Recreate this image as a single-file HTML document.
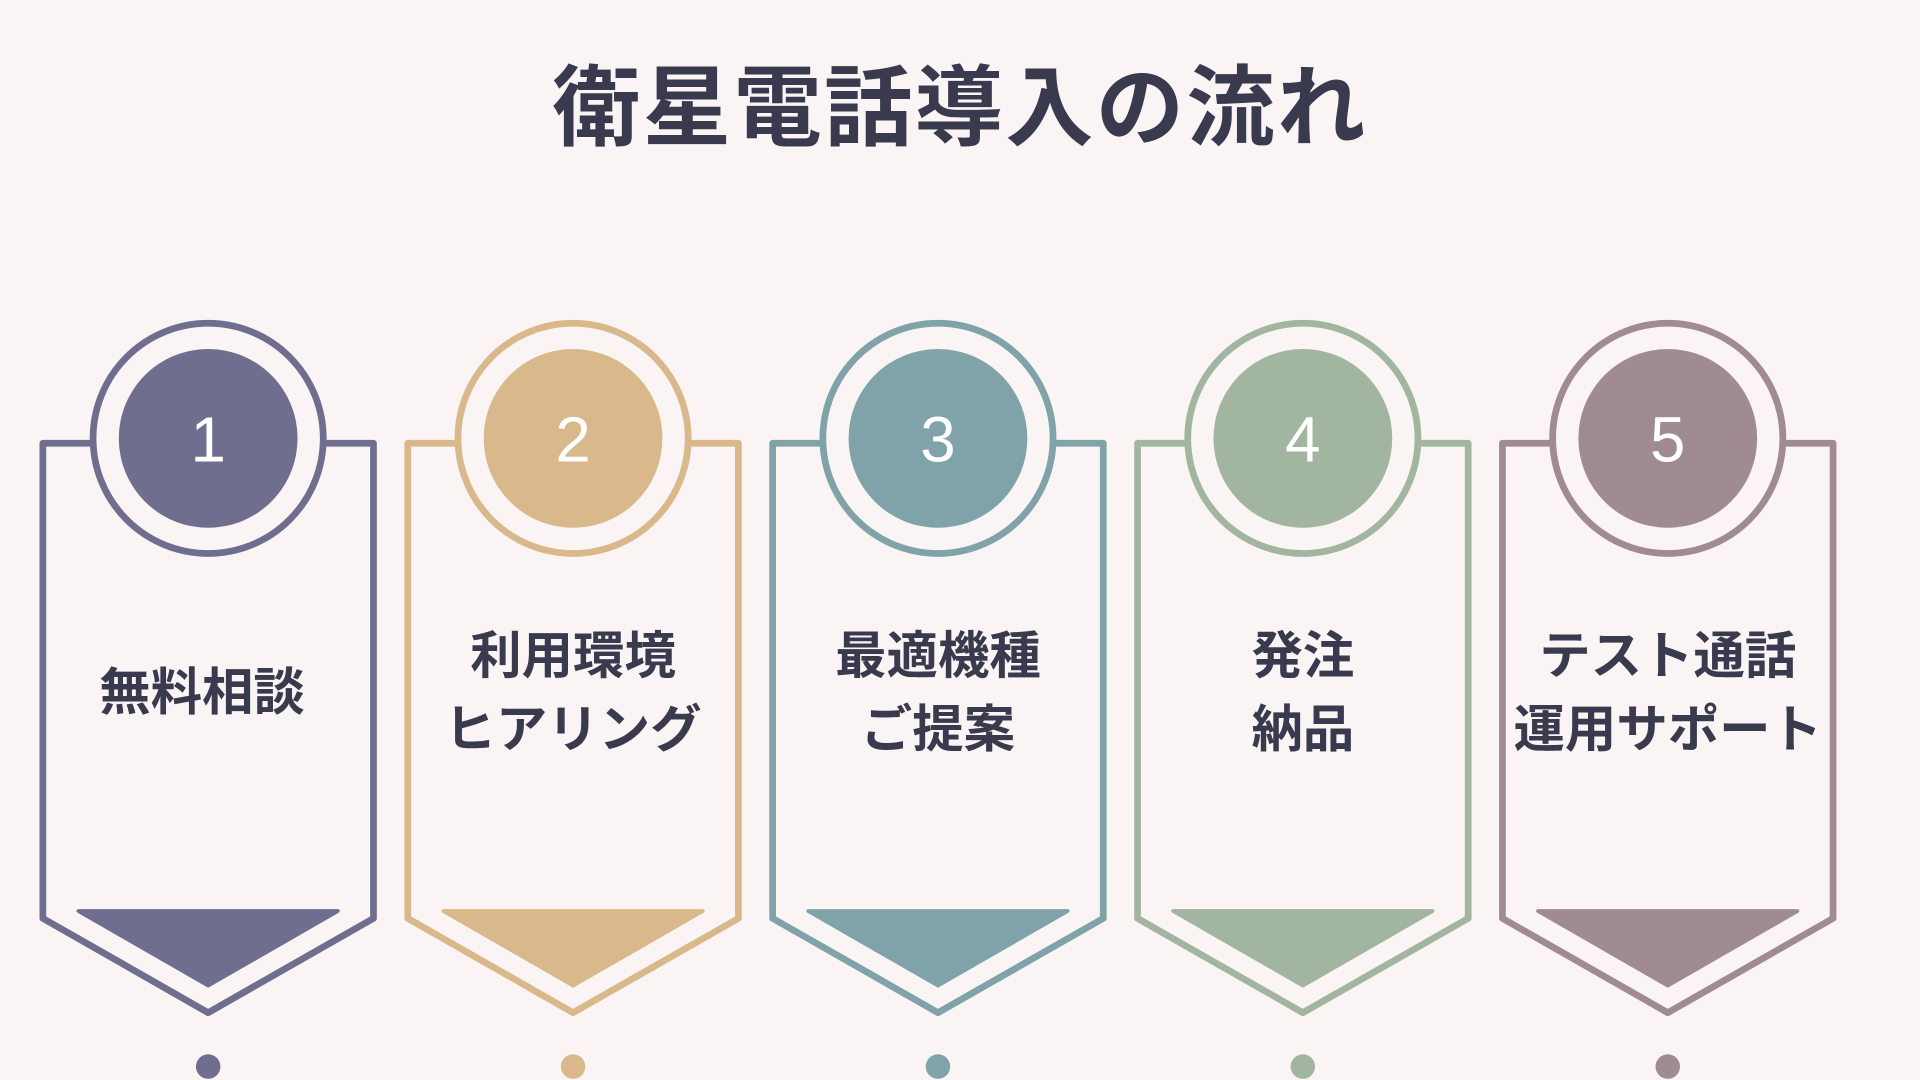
<!DOCTYPE html>
<html><head><meta charset="utf-8"><style>
html,body{margin:0;padding:0;background:#faf5f4;}
svg{display:block}
text{font-family:"Liberation Sans","Noto Sans CJK JP",sans-serif;}
</style></head><body>
<svg width="1920" height="1080" viewBox="0 0 1568 882" xmlns="http://www.w3.org/2000/svg">
<rect width="1568" height="882" fill="#faf5f4"/>
<text x="784" y="113" text-anchor="middle" font-size="72" font-weight="700" fill="#3a3a4e" letter-spacing="2">衛星電話導入の流れ</text>
<g stroke-linejoin="round" stroke-linecap="round">
<g transform="translate(0,0)">
<path d="M75 362 L35 362 L35 750 L170 827 L305 750 L305 362 L265 362" fill="none" stroke="#6f6e8e" stroke-width="5.5"/>
<circle cx="170" cy="358" r="94" fill="#faf5f4" stroke="#6f6e8e" stroke-width="5.5"/>
<circle cx="170" cy="358" r="73" fill="#6f6e8e"/>
<path d="M64 744 L276 744 L170 805 Z" fill="#6f6e8e" stroke="#6f6e8e" stroke-width="3"/>
<circle cx="170" cy="871" r="10" fill="#6f6e8e"/>
</g>
<g transform="translate(298,0)">
<path d="M75 362 L35 362 L35 750 L170 827 L305 750 L305 362 L265 362" fill="none" stroke="#d9b98b" stroke-width="5.5"/>
<circle cx="170" cy="358" r="94" fill="#faf5f4" stroke="#d9b98b" stroke-width="5.5"/>
<circle cx="170" cy="358" r="73" fill="#d9b98b"/>
<path d="M64 744 L276 744 L170 805 Z" fill="#d9b98b" stroke="#d9b98b" stroke-width="3"/>
<circle cx="170" cy="871" r="10" fill="#d9b98b"/>
</g>
<g transform="translate(596,0)">
<path d="M75 362 L35 362 L35 750 L170 827 L305 750 L305 362 L265 362" fill="none" stroke="#7fa3a8" stroke-width="5.5"/>
<circle cx="170" cy="358" r="94" fill="#faf5f4" stroke="#7fa3a8" stroke-width="5.5"/>
<circle cx="170" cy="358" r="73" fill="#7fa3a8"/>
<path d="M64 744 L276 744 L170 805 Z" fill="#7fa3a8" stroke="#7fa3a8" stroke-width="3"/>
<circle cx="170" cy="871" r="10" fill="#7fa3a8"/>
</g>
<g transform="translate(894,0)">
<path d="M75 362 L35 362 L35 750 L170 827 L305 750 L305 362 L265 362" fill="none" stroke="#a2b5a0" stroke-width="5.5"/>
<circle cx="170" cy="358" r="94" fill="#faf5f4" stroke="#a2b5a0" stroke-width="5.5"/>
<circle cx="170" cy="358" r="73" fill="#a2b5a0"/>
<path d="M64 744 L276 744 L170 805 Z" fill="#a2b5a0" stroke="#a2b5a0" stroke-width="3"/>
<circle cx="170" cy="871" r="10" fill="#a2b5a0"/>
</g>
<g transform="translate(1192,0)">
<path d="M75 362 L35 362 L35 750 L170 827 L305 750 L305 362 L265 362" fill="none" stroke="#a08b92" stroke-width="5.5"/>
<circle cx="170" cy="358" r="94" fill="#faf5f4" stroke="#a08b92" stroke-width="5.5"/>
<circle cx="170" cy="358" r="73" fill="#a08b92"/>
<path d="M64 744 L276 744 L170 805 Z" fill="#a08b92" stroke="#a08b92" stroke-width="3"/>
<circle cx="170" cy="871" r="10" fill="#a08b92"/>
</g>
</g>
<g font-size="52" fill="#ffffff" text-anchor="middle">
<text x="170" y="377">1</text>
<text x="468" y="377">2</text>
<text x="766" y="377">3</text>
<text x="1064" y="377">4</text>
<text x="1362" y="377">5</text>
</g>
<g font-size="42" font-weight="700" fill="#3a3a4e" text-anchor="middle">
<text x="165" y="580">無料相談</text>
<text x="468" y="550">利用環境</text>
<text x="468" y="610">ヒアリング</text>
<text x="766" y="550">最適機種</text>
<text x="766" y="610">ご提案</text>
<text x="1064" y="550">発注</text>
<text x="1064" y="610">納品</text>
<text x="1362" y="550">テスト通話</text>
<text x="1362" y="610">運用サポート</text>
</g>
</svg>
</body></html>
